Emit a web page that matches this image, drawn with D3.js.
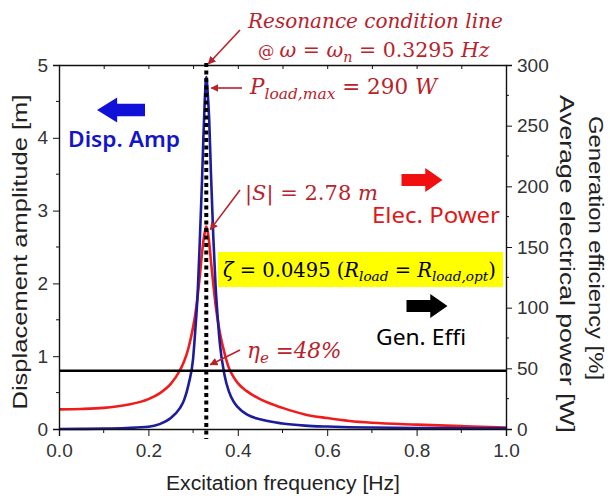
<!DOCTYPE html>
<html>
<head>
<meta charset="utf-8">
<script src="https://cdn.jsdelivr.net/npm/d3@7"></script>
<style>
  body { margin: 0; background: #fff; }
  svg { display: block; }
  .tick text { font-family: "Liberation Sans", Arial, sans-serif; font-size: 19px; fill: #333; }
  .axis path, .axis line { stroke: #111; }
</style>
</head>
<body>
<div id="chart"></div>
<script>
// values
const freq      = [0, 0.05, 0.1, 0.15, 0.2, 0.225, 0.25, 0.27, 0.28, 0.29, 0.30, 0.305, 0.31, 0.315, 0.32, 0.323, 0.326, 0.3295, 0.333, 0.336, 0.34, 0.345, 0.35, 0.355, 0.36, 0.37, 0.38, 0.39, 0.40, 0.42, 0.45, 0.5, 0.55, 0.6, 0.65, 0.7, 0.8, 0.9, 1.0];
// red curve, left axis [m]
const dispAmp   = [0.27, 0.275, 0.29, 0.33, 0.41, 0.49, 0.62, 0.80, 0.93, 1.12, 1.40, 1.58, 1.82, 2.10, 2.42, 2.58, 2.70, 2.78, 2.70, 2.56, 2.30, 2.00, 1.72, 1.50, 1.32, 1.05, 0.84, 0.72, 0.63, 0.52, 0.41, 0.29, 0.20, 0.15, 0.11, 0.085, 0.06, 0.04, 0.02];
// blue curve, right axis [W]
const elecPower = [0, 0.1, 0.3, 0.8, 1.8, 4, 9, 17, 24, 37, 58, 82, 110, 155, 205, 240, 270, 290, 275, 255, 210, 160, 120, 92, 70, 45, 31, 23, 18, 12, 8, 4.5, 2.8, 2, 1.5, 1.2, 0.8, 0.6, 0.5];
const genEffi = 48;      // [%]
const resFreq = 0.3295;  // [Hz]
const sPeak = 2.78;      // [m]
const pMax = 290;        // [W]

const xTicks = [0, 0.2, 0.4, 0.6, 0.8, 1.0];
const xMinor = [0.1, 0.3, 0.5, 0.7, 0.9];
const leftTicks = [0, 1, 2, 3, 4, 5];
const leftMinor = [0.5, 1.5, 2.5, 3.5, 4.5];
const rightTicks = [0, 50, 100, 150, 200, 250, 300];
const rightMinor = [25, 75, 125, 175, 225, 275];

const width = 610, height = 499;
const margin = {top: 65, right: 104, bottom: 70, left: 59};
const redC = "#f01c1c", blueC = "#1c1c9c", annC = "#b8232b";

const svg = d3.select("#chart").append("svg")
  .attr("width", width).attr("height", height);

const x = d3.scaleLinear().domain([0, 1]).range([margin.left, width - margin.right]);
const yL = d3.scaleLinear().domain([0, 5]).range([height - margin.bottom, margin.top]);
const yR = d3.scaleLinear().domain([0, 300]).range([height - margin.bottom, margin.top]);

const x0 = x(0), x1 = x(1), yB = yL(0), yT = yL(5);

// curves
const lineL = d3.line().curve(d3.curveMonotoneX).x(d => x(d[0])).y(d => yL(d[1]));
const lineR = d3.line().curve(d3.curveMonotoneX).x(d => x(d[0])).y(d => yR(d[1]));

svg.append("path")
  .datum(d3.zip(freq, dispAmp))
  .attr("d", lineL)
  .attr("fill", "none").attr("stroke", redC).attr("stroke-width", 2.6);

svg.append("path")
  .datum(d3.zip(freq, elecPower))
  .attr("d", lineR)
  .attr("fill", "none").attr("stroke", blueC).attr("stroke-width", 2.6);

// efficiency line
svg.append("line")
  .attr("x1", x0).attr("x2", x1)
  .attr("y1", yR(genEffi)).attr("y2", yR(genEffi))
  .attr("stroke", "#000").attr("stroke-width", 2.5);

// axes
const gB = svg.append("g").attr("class", "axis")
  .attr("transform", `translate(0,${yB})`)
  .call(d3.axisBottom(x).tickValues(xTicks).tickFormat(d3.format(".1f")).tickSize(7).tickPadding(8));
gB.selectAll("line.mn").data(xMinor).enter().append("line")
  .attr("x1", d => x(d)).attr("x2", d => x(d)).attr("y1", 0).attr("y2", 4)
  .attr("stroke", "#111");

svg.append("g").attr("class", "axis")
  .attr("transform", `translate(0,${yT})`)
  .call(d3.axisBottom(x).tickValues(xTicks.concat(xMinor)).tickFormat("").tickSize(4).tickSizeOuter(0));

const gL = svg.append("g").attr("class", "axis")
  .attr("transform", `translate(${x0},0)`)
  .call(d3.axisLeft(yL).tickValues(leftTicks).tickFormat(d3.format("d")).tickSize(6).tickPadding(5));
gL.selectAll("line.mn").data(leftMinor).enter().append("line")
  .attr("x1", 0).attr("x2", -3).attr("y1", d => yL(d)).attr("y2", d => yL(d))
  .attr("stroke", "#111");

const gR = svg.append("g").attr("class", "axis")
  .attr("transform", `translate(${x1},0)`)
  .call(d3.axisRight(yR).tickValues(rightTicks).tickFormat(d3.format("d")).tickSize(6).tickPadding(5));
gR.selectAll("line.mn").data(rightMinor).enter().append("line")
  .attr("x1", 0).attr("x2", 3).attr("y1", d => yR(d)).attr("y2", d => yR(d))
  .attr("stroke", "#111");

svg.selectAll(".axis path").attr("stroke-width", 1.4);

// resonance dotted line
svg.append("line")
  .attr("x1", x(resFreq)).attr("x2", x(resFreq))
  .attr("y1", yT - 2).attr("y2", yB + 10)
  .attr("stroke", "#000").attr("stroke-width", 4).attr("stroke-dasharray", "4,3.5");

// axis titles
const sans = "'Liberation Sans', Arial, sans-serif";
const title = (tr, txt, len, anchor) => svg.append("text")
  .attr("transform", tr).attr("text-anchor", anchor || "start")
  .attr("font-family", sans).attr("font-size", 20).attr("fill", "#222")
  .attr("textLength", len).attr("lengthAdjust", "spacingAndGlyphs")
  .text(txt);

title(`translate(27,252) rotate(-90)`, "Displacement amplitude [m]", 315, "middle");
title(`translate(283,490)`, "Excitation frequency [Hz]", 234, "middle");
title(`translate(560,95) rotate(90)`, "Average electrical power [W]", 338);
title(`translate(589,116) rotate(90)`, "Generation efficiency [%]", 264);

// block arrows
const blockArrow = (cx, cy, w, h, dir, color) => {
  const hw = w * 0.42, sh = h * 0.25;
  const pts = [[-w/2, -sh], [w/2 - hw, -sh], [w/2 - hw, -h/2], [w/2, 0], [w/2 - hw, h/2], [w/2 - hw, sh], [-w/2, sh]];
  svg.append("polygon")
    .attr("points", pts.map(p => [cx + dir * p[0], cy + p[1]].join(",")).join(" "))
    .attr("fill", color);
};
blockArrow(121, 110, 48, 25, -1, "#1010d8");
blockArrow(422, 180, 41, 24, 1, "#f01010");
blockArrow(427, 306, 41, 24, 1, "#000");

const label = "'Noto Sans', 'Open Sans', sans-serif";
const tag = (xx, yy, txt, len, color, weight) => svg.append("text")
  .attr("x", xx).attr("y", yy).attr("font-family", label).attr("font-size", 21)
  .attr("font-weight", weight || 400).attr("fill", color)
  .attr("textLength", len).attr("lengthAdjust", "spacingAndGlyphs").text(txt);
tag(68, 147, "Disp. Amp", 112, "#1414c8", 600);
tag(372, 223, "Elec. Power", 128, "#e01818");
tag(376, 345, "Gen. Effi", 90, "#000");

// math annotations
const serif = "'DejaVu Serif', 'Liberation Serif', serif";
const mathText = (xx, yy, size, parts, color) => {
  const t = svg.append("text").attr("x", xx).attr("y", yy)
    .attr("font-family", serif).attr("font-size", size).attr("fill", color || annC);
  parts.forEach(p => {
    const s = t.append("tspan").text(p.t);
    if (p.i) s.attr("font-style", "italic");
    if (p.s) s.attr("font-size", size * p.s);
    if (p.dy) s.attr("dy", p.dy);
  });
  return t;
};

mathText(248, 28, 20, [{t: "Resonance condition line", i: 1}]);
mathText(258, 57, 20.5, [
  {t: "@ ", s: 0.8}, {t: "ω", i: 1}, {t: " = "}, {t: "ω", i: 1}, {t: "n", i: 1, s: 0.7, dy: 5},
  {t: " = 0.3295 ", dy: -5}, {t: "Hz", i: 1}
]);
mathText(250, 94, 21.5, [
  {t: "P", i: 1}, {t: "load,max", i: 1, s: 0.72, dy: 5}, {t: " = 290 ", dy: -5}, {t: "W", i: 1}
]);
mathText(245, 200, 21, [
  {t: "|"}, {t: "S", i: 1}, {t: "| = 2.78 "}, {t: "m", i: 1}
]);
mathText(247, 358, 21.5, [
  {t: "η", i: 1}, {t: "e", i: 1, s: 0.7, dy: 5}, {t: " =48%", i: 1, dy: -5}
]);

// yellow box
svg.append("rect").attr("x", 218).attr("y", 252).attr("width", 285).attr("height", 35).attr("fill", "#ffff00");
mathText(223, 277, 19.5, [
  {t: "ζ", i: 1}, {t: " = 0.0495 ("}, {t: "R", i: 1}, {t: "load", i: 1, s: 0.7, dy: 4},
  {t: " = ", dy: -4}, {t: "R", i: 1}, {t: "load,opt", i: 1, s: 0.7, dy: 4}, {t: ")", dy: -4}
], "#000");

// pointer arrows
const defs = svg.append("defs");
defs.append("marker").attr("id", "head").attr("viewBox", "0 0 10 10")
  .attr("refX", 9).attr("refY", 5).attr("markerWidth", 5).attr("markerHeight", 5)
  .attr("markerUnits", "strokeWidth").attr("orient", "auto")
  .append("path").attr("d", "M0,0 L10,5 L0,10 z").attr("fill", annC);

const pointer = (fx, fy, tx, ty) => svg.append("line")
  .attr("x1", fx).attr("y1", fy).attr("x2", tx).attr("y2", ty)
  .attr("stroke", annC).attr("stroke-width", 1.6).attr("marker-end", "url(#head)");

pointer(240, 30, x(resFreq) + 2, yT - 1);
pointer(242, 88, x(resFreq) + 5, 88);
pointer(240, 190, x(resFreq) + 4, yL(sPeak) + 3);
pointer(240, 350, x(resFreq) + 4, yR(genEffi) - 6);
</script>
</body>
</html>
